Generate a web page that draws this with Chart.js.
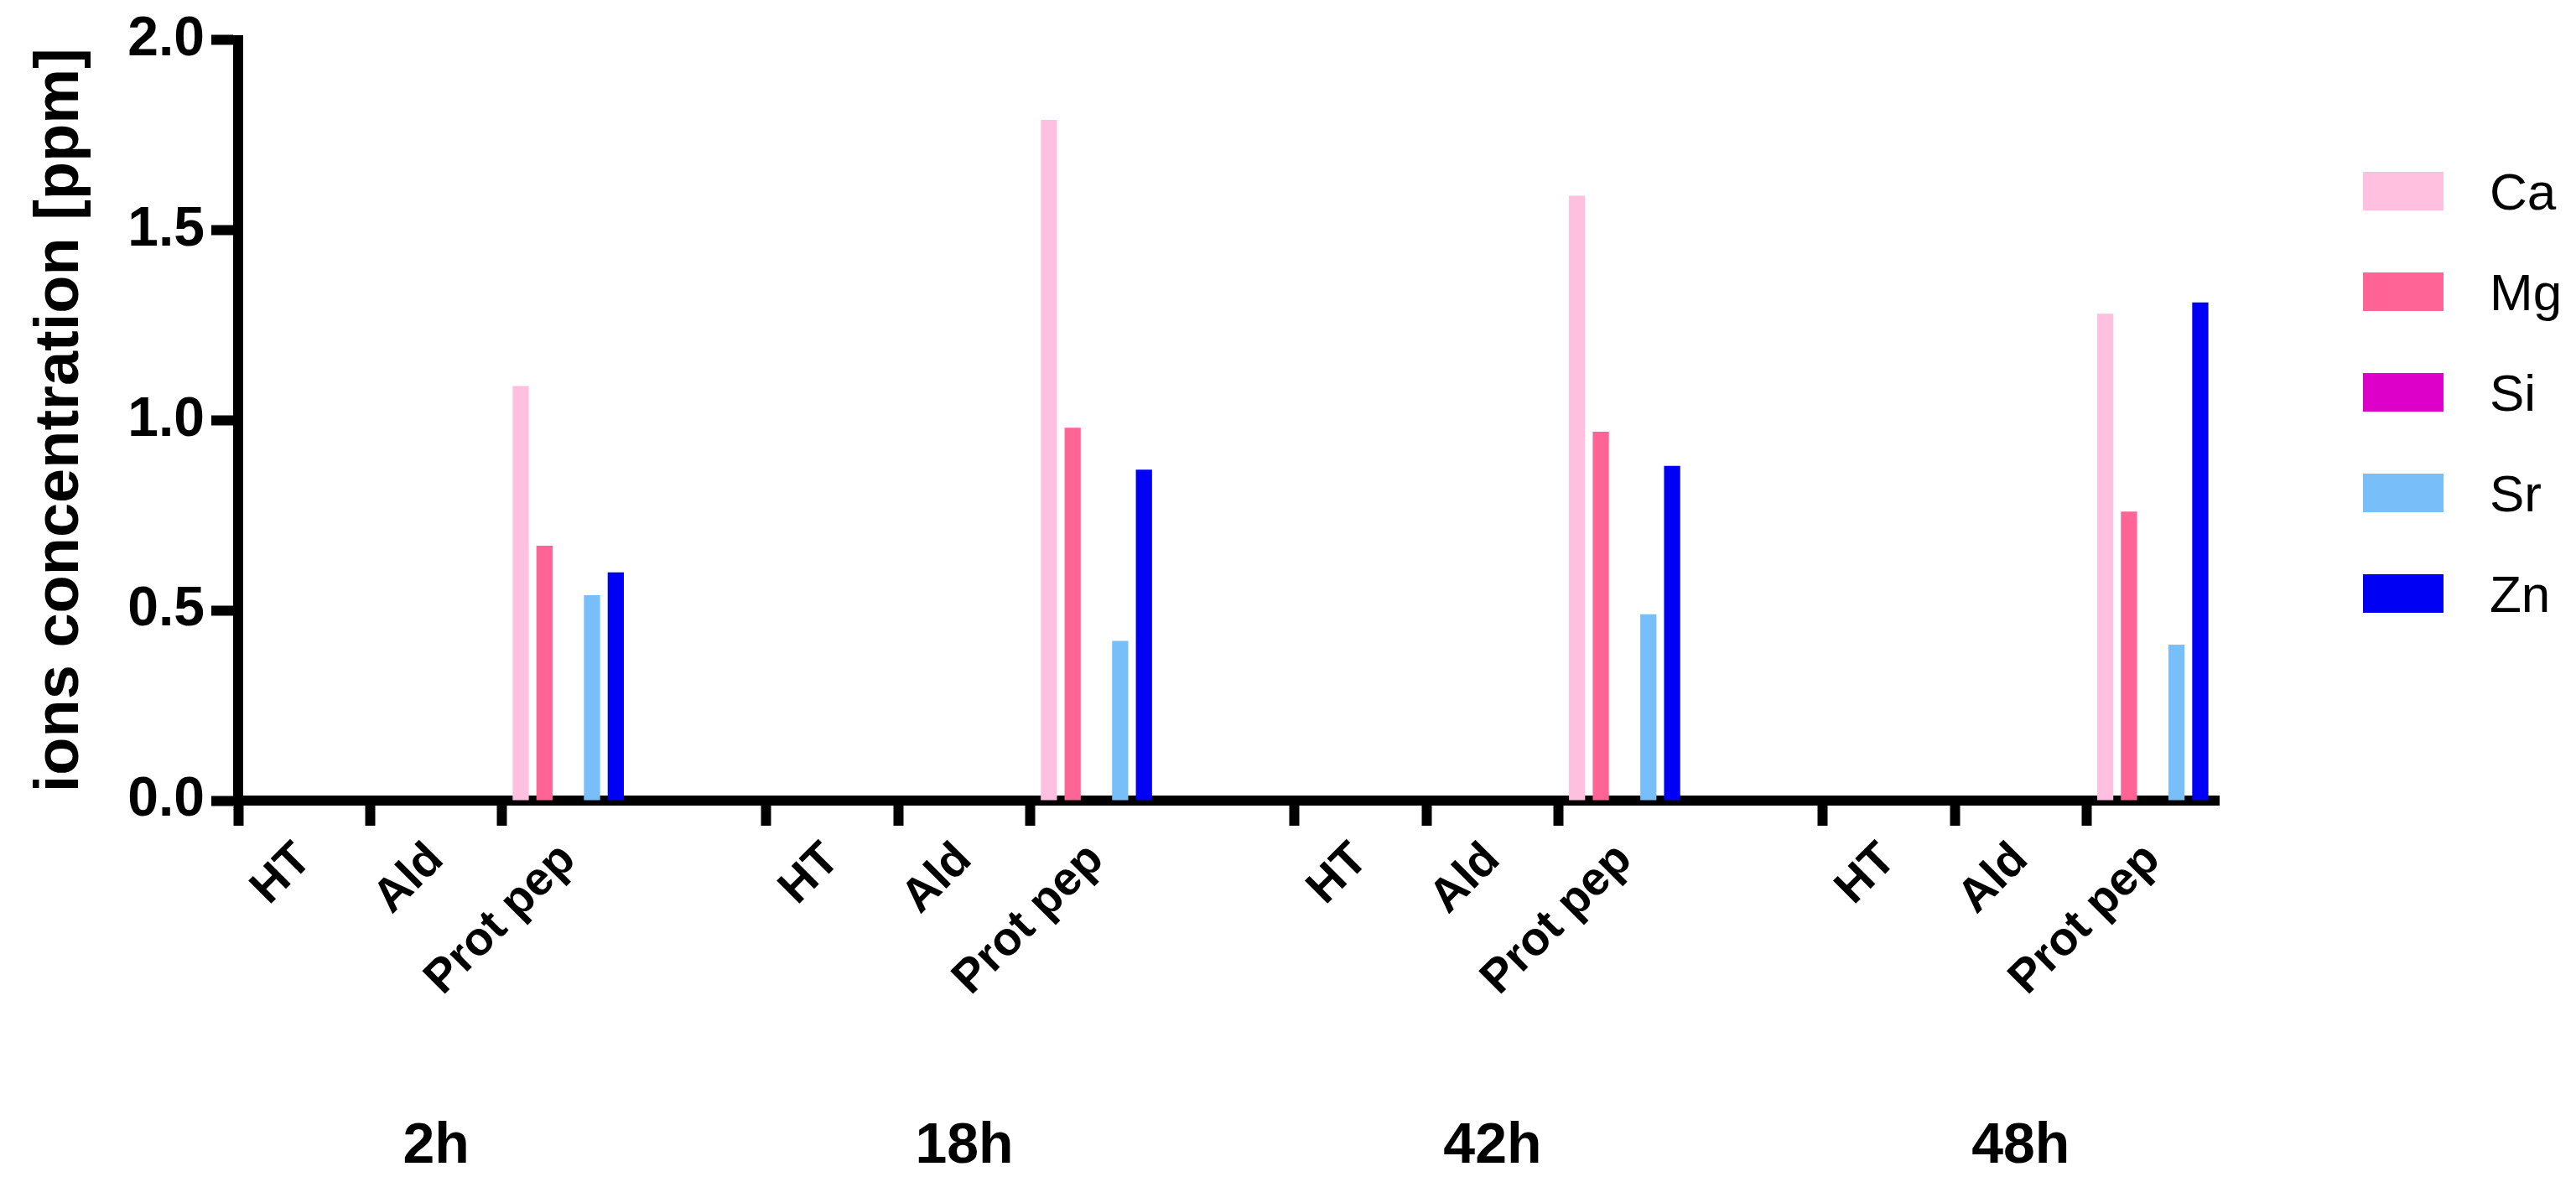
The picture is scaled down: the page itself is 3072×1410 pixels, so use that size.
<!DOCTYPE html>
<html>
<head>
<meta charset="utf-8">
<script src="https://cdn.jsdelivr.net/npm/chart.js@4"></script>
<style>
  body { margin: 0; background: #fff; }
  #wrap { position: relative; width: 3072px; height: 1410px; }
  #legend { position: absolute; left: 2818px; top: 168px; font-family: "Liberation Sans", Arial, sans-serif; font-size: 62px; }
  .row { display: flex; align-items: center; height: 120px; }
  .box { width: 96px; height: 46px; margin-right: 55px; }
</style>
</head>
<body>
<div id="wrap">
  <canvas id="chart" width="3072" height="1410"></canvas>
  <div id="legend"></div>
</div>
<script>
// x categories (blank slots separate the time groups)
const categories = ['HT', 'Ald', 'Prot pep', '', 'HT', 'Ald', 'Prot pep', '', 'HT', 'Ald', 'Prot pep', '', 'HT', 'Ald', 'Prot pep'];
const groupLabels = ['2h', '18h', '42h', '48h'];
const groupCenters = [1, 5, 9, 13];

const ionNames = ['Ca', 'Mg', 'Si', 'Sr', 'Zn'];
const ionColors = ['#ffc0e0', '#ff6496', '#dc00c8', '#78bef9', '#0000f5'];

const caValues = [null, null, 1.09, null, null, null, 1.79, null, null, null, 1.59, null, null, null, 1.28];
const mgValues = [null, null, 0.67, null, null, null, 0.98, null, null, null, 0.97, null, null, null, 0.76];
const siValues = [null, null, 0, null, null, null, 0, null, null, null, 0, null, null, null, 0];
const srValues = [null, null, 0.54, null, null, null, 0.42, null, null, null, 0.49, null, null, null, 0.41];
const znValues = [null, null, 0.60, null, null, null, 0.87, null, null, null, 0.88, null, null, null, 1.31];

const yTicks = [0, 0.5, 1.0, 1.5, 2.0];

const seriesValues = [caValues, mgValues, siValues, srValues, znValues];
const FONT = '"Liberation Sans", Arial, sans-serif';

// group labels (2h, 18h ...) under the middle category of each group
const groupLabelPlugin = {
    id: 'groupLabels',
    afterDraw(chart) {
        const ctx = chart.ctx;
        const x = chart.scales.x;
        ctx.save();
        ctx.font = 'bold 68px ' + FONT;
        ctx.fillStyle = '#000';
        ctx.textAlign = 'center';
        ctx.textBaseline = 'middle';
        groupLabels.forEach((g, i) => {
            ctx.fillText(g, x.getPixelForValue(groupCenters[i]), 1368);
        });
        ctx.restore();
    }
};

new Chart(document.getElementById('chart').getContext('2d'), {
    type: 'bar',
    data: {
        labels: categories,
        datasets: ionNames.map((name, i) => ({
            label: name,
            data: seriesValues[i],
            backgroundColor: ionColors[i],
            borderWidth: 0,
            categoryPercentage: 0.9,
            barPercentage: 0.68
        }))
    },
    options: {
        responsive: false,
        animation: false,
        layout: { padding: { top: 38, right: 426, bottom: 0, left: 0 } },
        plugins: { legend: { display: false }, tooltip: { enabled: false } },
        scales: {
            x: {
                afterFit: (s) => { s.height = 455; },
                grid: {
                    drawOnChartArea: false,
                    tickLength: 30,
                    tickWidth: 12,
                    tickColor: (c) => categories[c.index] ? '#000' : 'rgba(0,0,0,0)'
                },
                border: { color: '#000', width: 12 },
                ticks: {
                    autoSkip: false,
                    maxRotation: 45,
                    minRotation: 45,
                    color: '#000',
                    padding: 8,
                    font: { family: FONT, size: 56, weight: 'bold' }
                }
            },
            y: {
                min: 0,
                max: 2.0,
                afterFit: (s) => { s.width = 284; },
                afterBuildTicks: (s) => { s.ticks = yTicks.map(v => ({ value: v })); },
                grid: { drawOnChartArea: false, tickLength: 32, tickWidth: 12, tickColor: '#000' },
                border: { color: '#000', width: 12 },
                ticks: {
                    color: '#000',
                    padding: 8,
                    font: { family: FONT, size: 66, weight: 'bold' },
                    callback: (v) => Number(v).toFixed(1)
                },
                title: {
                    display: true,
                    text: 'ions concentration [ppm]',
                    color: '#000',
                    padding: { top: 28, bottom: 10 },
                    font: { family: FONT, size: 74, weight: 'bold' }
                }
            }
        }
    },
    plugins: [groupLabelPlugin]
});

const legend = document.getElementById('legend');
ionNames.forEach((name, i) => {
    legend.innerHTML += `<div class="row"><div class="box" style="background:${ionColors[i]}"></div>${name}</div>`;
});
</script>
</body>
</html>
